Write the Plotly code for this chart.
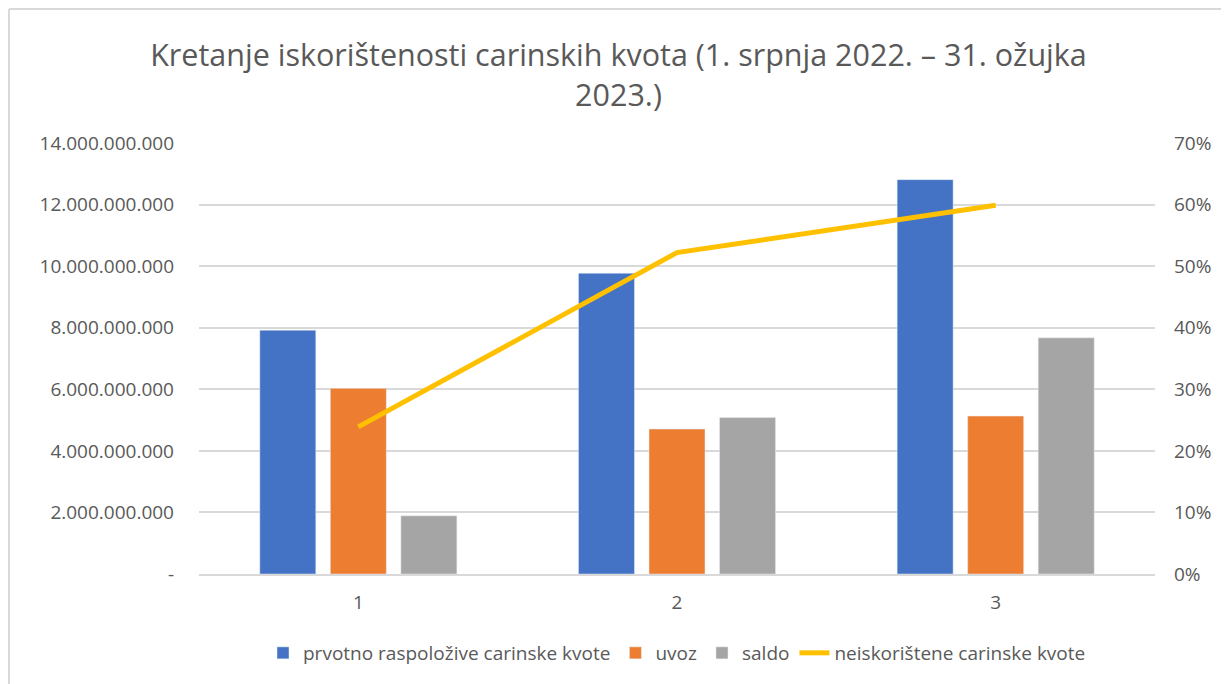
import plotly.graph_objects as go

categories = ["1", "2", "3"]
prvotno = [7.92e9, 9.77e9, 12.81e9]
uvoz = [6.03e9, 4.71e9, 5.13e9]
saldo = [1.89e9, 5.08e9, 7.67e9]
neiskoristene = [0.239, 0.522, 0.599]

left_tickvals = [0, 2e9, 4e9, 6e9, 8e9, 10e9, 12e9, 14e9]
left_ticktext = ["-", "2.000.000.000", "4.000.000.000", "6.000.000.000",
                 "8.000.000.000", "10.000.000.000", "12.000.000.000", "14.000.000.000"]
right_tickvals = [0, 0.1, 0.2, 0.3, 0.4, 0.5, 0.6, 0.7]
right_ticktext = ["0%", "10%", "20%", "30%", "40%", "50%", "60%", "70%"]

FONT = "Open Sans"
GREY = "#595959"

fig = go.Figure()
fig.add_trace(go.Bar(x=categories, y=prvotno, name="prvotno raspoložive carinske kvote",
                     marker_color="#4472C4"))
fig.add_trace(go.Bar(x=categories, y=uvoz, name="uvoz", marker_color="#ED7D31"))
fig.add_trace(go.Bar(x=categories, y=saldo, name="saldo", marker_color="#A5A5A5"))
fig.add_trace(go.Scatter(x=categories, y=neiskoristene, name="neiskorištene carinske kvote",
                         mode="lines", line=dict(color="#FFC000", width=5), yaxis="y2"))

# page has an 8px body margin, so the figure is sized/offset to compensate
W, H = 1221, 676
ml, mr, mt, mb = 191, 74, 135, 110
pw = W - ml - mr
ph = H - mt - mb

fig.update_layout(
    width=W, height=H,
    margin=dict(l=ml, r=mr, t=mt, b=mb),
    paper_bgcolor="white", plot_bgcolor="white",
    font=dict(family=FONT, color=GREY, size=19),
    title=dict(text="Kretanje iskorištenosti carinskih kvota (1. srpnja 2022. – 31. ožujka<br>2023.)",
               x=0.5, xanchor="center", y=1 - 58 / H, yanchor="middle",
               font=dict(family=FONT, size=30.5, color=GREY)),
    barmode="group", bargap=0.336, bargroupgap=0.206,
    xaxis=dict(type="category", showgrid=False, showline=True, linecolor="#D9D9D9",
               linewidth=1.5, ticks="", tickfont=dict(size=19, color=GREY),
               ticklabelstandoff=10),
    yaxis=dict(range=[0, 14e9], tickvals=left_tickvals, ticktext=left_ticktext,
               showgrid=True, gridcolor="#D9D9D9", gridwidth=1.5, zeroline=False,
               tickfont=dict(size=19, color=GREY), ticks="", ticklabelstandoff=24),
    yaxis2=dict(range=[0, 0.7], tickvals=right_tickvals, ticktext=right_ticktext,
                overlaying="y", side="right", showgrid=False, zeroline=False,
                tickfont=dict(size=19, color=GREY), ticks="", ticklabelstandoff=18),
    legend=dict(orientation="h", x=0.5, xanchor="center", y=1 - (645 - mt) / ph,
                yanchor="middle", font=dict(size=19, color=GREY), traceorder="normal"),
    showlegend=True,
)

# chart frame: left and top edges
fig.add_shape(type="line", xref="paper", yref="paper",
              x0=(1 - ml) / pw, x1=(1 - ml) / pw,
              y0=-(mb) / ph, y1=1 + (mt - 1) / ph,
              line=dict(color="#D9D9D9", width=2), layer="below")
fig.add_shape(type="line", xref="paper", yref="paper",
              x0=(1 - ml) / pw, x1=(W - ml) / pw,
              y0=1 + (mt - 1) / ph, y1=1 + (mt - 1) / ph,
              line=dict(color="#D9D9D9", width=2), layer="below")

fig.write_html("out.html")
